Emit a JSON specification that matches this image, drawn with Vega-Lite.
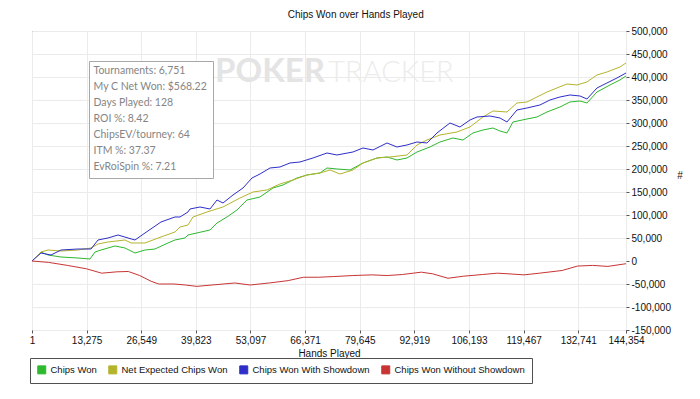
{
  "$schema": "https://vega.github.io/schema/vega-lite/v6.json",
  "width": 594,
  "height": 299,
  "autosize": {"type": "none"},
  "padding": {"left": 32, "top": 31, "right": 74, "bottom": 69},
  "background": "#ffffff",
  "title": {
    "text": "Chips Won over Hands Played",
    "font": "Liberation Sans",
    "fontSize": 10,
    "fontWeight": "normal",
    "color": "#111111",
    "anchor": "middle",
    "frame": "bounds",
    "offset": 6
  },
  "config": {
    "view": {"stroke": "#5a5a5a", "strokeWidth": 1},
    "axis": {
      "labelFont": "Liberation Sans",
      "labelFontSize": 10,
      "labelColor": "#111111",
      "titleFont": "Liberation Sans",
      "titleFontSize": 10,
      "titleFontWeight": "normal",
      "titleColor": "#111111",
      "gridColor": "#ebebeb",
      "gridWidth": 1,
      "tickColor": "#555555",
      "domainColor": "#555555",
      "labelOverlap": false,
      "labelFlush": false
    }
  },
  "layer": [
    {
      "data": {"values": [
        {"series": "Chips Won", "hands": 1, "chips": 0},
        {"series": "Chips Won", "hands": 2188, "chips": 19566},
        {"series": "Chips Won", "hands": 3889, "chips": 13044},
        {"series": "Chips Won", "hands": 7048, "chips": 8696},
        {"series": "Chips Won", "hands": 11179, "chips": 6522},
        {"series": "Chips Won", "hands": 14095, "chips": 4348},
        {"series": "Chips Won", "hands": 15310, "chips": 19566},
        {"series": "Chips Won", "hands": 16769, "chips": 23914},
        {"series": "Chips Won", "hands": 20171, "chips": 32610},
        {"series": "Chips Won", "hands": 22601, "chips": 28262},
        {"series": "Chips Won", "hands": 25031, "chips": 17392},
        {"series": "Chips Won", "hands": 27461, "chips": 23914},
        {"series": "Chips Won", "hands": 29891, "chips": 26088},
        {"series": "Chips Won", "hands": 33050, "chips": 39132},
        {"series": "Chips Won", "hands": 34751, "chips": 45654},
        {"series": "Chips Won", "hands": 37181, "chips": 50002},
        {"series": "Chips Won", "hands": 37910, "chips": 56524},
        {"series": "Chips Won", "hands": 43255, "chips": 67394},
        {"series": "Chips Won", "hands": 44956, "chips": 82612},
        {"series": "Chips Won", "hands": 47386, "chips": 95656},
        {"series": "Chips Won", "hands": 49816, "chips": 110874},
        {"series": "Chips Won", "hands": 52246, "chips": 132614},
        {"series": "Chips Won", "hands": 55405, "chips": 139136},
        {"series": "Chips Won", "hands": 58564, "chips": 158702},
        {"series": "Chips Won", "hands": 60994, "chips": 165224},
        {"series": "Chips Won", "hands": 64396, "chips": 180442},
        {"series": "Chips Won", "hands": 66826, "chips": 186964},
        {"series": "Chips Won", "hands": 69985, "chips": 191312},
        {"series": "Chips Won", "hands": 71686, "chips": 202182},
        {"series": "Chips Won", "hands": 74116, "chips": 200008},
        {"series": "Chips Won", "hands": 77275, "chips": 197834},
        {"series": "Chips Won", "hands": 80434, "chips": 213052},
        {"series": "Chips Won", "hands": 83836, "chips": 223922},
        {"series": "Chips Won", "hands": 86266, "chips": 226096},
        {"series": "Chips Won", "hands": 88696, "chips": 219574},
        {"series": "Chips Won", "hands": 91126, "chips": 223922},
        {"series": "Chips Won", "hands": 93556, "chips": 236966},
        {"series": "Chips Won", "hands": 96715, "chips": 247836},
        {"series": "Chips Won", "hands": 99145, "chips": 258706},
        {"series": "Chips Won", "hands": 102304, "chips": 267402},
        {"series": "Chips Won", "hands": 104734, "chips": 263054},
        {"series": "Chips Won", "hands": 107164, "chips": 278272},
        {"series": "Chips Won", "hands": 109594, "chips": 284794},
        {"series": "Chips Won", "hands": 112024, "chips": 289142},
        {"series": "Chips Won", "hands": 113725, "chips": 282620},
        {"series": "Chips Won", "hands": 115426, "chips": 278272},
        {"series": "Chips Won", "hands": 116884, "chips": 302186},
        {"series": "Chips Won", "hands": 120286, "chips": 308708},
        {"series": "Chips Won", "hands": 122716, "chips": 313056},
        {"series": "Chips Won", "hands": 125146, "chips": 323926},
        {"series": "Chips Won", "hands": 128305, "chips": 334796},
        {"series": "Chips Won", "hands": 130735, "chips": 345666},
        {"series": "Chips Won", "hands": 133165, "chips": 347840},
        {"series": "Chips Won", "hands": 134866, "chips": 343492},
        {"series": "Chips Won", "hands": 137296, "chips": 367406},
        {"series": "Chips Won", "hands": 140455, "chips": 382624},
        {"series": "Chips Won", "hands": 142885, "chips": 393494},
        {"series": "Chips Won", "hands": 144354, "chips": 402190},

        {"series": "Net Expected Chips Won", "hands": 1, "chips": 0},
        {"series": "Net Expected Chips Won", "hands": 2188, "chips": 19566},
        {"series": "Net Expected Chips Won", "hands": 3889, "chips": 23914},
        {"series": "Net Expected Chips Won", "hands": 7048, "chips": 21740},
        {"series": "Net Expected Chips Won", "hands": 11179, "chips": 23914},
        {"series": "Net Expected Chips Won", "hands": 14338, "chips": 28262},
        {"series": "Net Expected Chips Won", "hands": 16039, "chips": 36958},
        {"series": "Net Expected Chips Won", "hands": 18469, "chips": 41306},
        {"series": "Net Expected Chips Won", "hands": 22601, "chips": 45654},
        {"series": "Net Expected Chips Won", "hands": 24059, "chips": 39132},
        {"series": "Net Expected Chips Won", "hands": 27461, "chips": 39132},
        {"series": "Net Expected Chips Won", "hands": 31349, "chips": 52176},
        {"series": "Net Expected Chips Won", "hands": 34751, "chips": 63046},
        {"series": "Net Expected Chips Won", "hands": 35966, "chips": 73916},
        {"series": "Net Expected Chips Won", "hands": 37910, "chips": 78264},
        {"series": "Net Expected Chips Won", "hands": 39125, "chips": 95656},
        {"series": "Net Expected Chips Won", "hands": 42527, "chips": 106526},
        {"series": "Net Expected Chips Won", "hands": 46415, "chips": 117396},
        {"series": "Net Expected Chips Won", "hands": 50546, "chips": 136962},
        {"series": "Net Expected Chips Won", "hands": 53705, "chips": 150006},
        {"series": "Net Expected Chips Won", "hands": 57107, "chips": 154354},
        {"series": "Net Expected Chips Won", "hands": 60266, "chips": 167398},
        {"series": "Net Expected Chips Won", "hands": 63425, "chips": 176094},
        {"series": "Net Expected Chips Won", "hands": 66826, "chips": 186964},
        {"series": "Net Expected Chips Won", "hands": 69985, "chips": 191312},
        {"series": "Net Expected Chips Won", "hands": 72415, "chips": 197834},
        {"series": "Net Expected Chips Won", "hands": 74845, "chips": 189138},
        {"series": "Net Expected Chips Won", "hands": 78004, "chips": 197834},
        {"series": "Net Expected Chips Won", "hands": 80434, "chips": 213052},
        {"series": "Net Expected Chips Won", "hands": 83836, "chips": 223922},
        {"series": "Net Expected Chips Won", "hands": 86995, "chips": 226096},
        {"series": "Net Expected Chips Won", "hands": 91126, "chips": 230444},
        {"series": "Net Expected Chips Won", "hands": 93556, "chips": 252184},
        {"series": "Net Expected Chips Won", "hands": 95986, "chips": 263054},
        {"series": "Net Expected Chips Won", "hands": 99145, "chips": 273924},
        {"series": "Net Expected Chips Won", "hands": 103276, "chips": 280446},
        {"series": "Net Expected Chips Won", "hands": 106435, "chips": 291316},
        {"series": "Net Expected Chips Won", "hands": 109594, "chips": 313056},
        {"series": "Net Expected Chips Won", "hands": 112024, "chips": 326100},
        {"series": "Net Expected Chips Won", "hands": 115426, "chips": 323926},
        {"series": "Net Expected Chips Won", "hands": 117856, "chips": 343492},
        {"series": "Net Expected Chips Won", "hands": 120286, "chips": 345666},
        {"series": "Net Expected Chips Won", "hands": 122716, "chips": 356536},
        {"series": "Net Expected Chips Won", "hands": 125146, "chips": 367406},
        {"series": "Net Expected Chips Won", "hands": 127576, "chips": 376102},
        {"series": "Net Expected Chips Won", "hands": 130006, "chips": 384798},
        {"series": "Net Expected Chips Won", "hands": 132436, "chips": 382624},
        {"series": "Net Expected Chips Won", "hands": 134866, "chips": 389146},
        {"series": "Net Expected Chips Won", "hands": 137296, "chips": 404364},
        {"series": "Net Expected Chips Won", "hands": 139726, "chips": 410886},
        {"series": "Net Expected Chips Won", "hands": 142885, "chips": 421756},
        {"series": "Net Expected Chips Won", "hands": 144354, "chips": 430452},

        {"series": "Chips Won With Showdown", "hands": 1, "chips": 0},
        {"series": "Chips Won With Showdown", "hands": 2188, "chips": 17392},
        {"series": "Chips Won With Showdown", "hands": 4618, "chips": 13044},
        {"series": "Chips Won With Showdown", "hands": 7048, "chips": 23914},
        {"series": "Chips Won With Showdown", "hands": 11179, "chips": 26088},
        {"series": "Chips Won With Showdown", "hands": 14338, "chips": 26088},
        {"series": "Chips Won With Showdown", "hands": 16039, "chips": 45654},
        {"series": "Chips Won With Showdown", "hands": 18469, "chips": 50002},
        {"series": "Chips Won With Showdown", "hands": 20899, "chips": 56524},
        {"series": "Chips Won With Showdown", "hands": 23329, "chips": 50002},
        {"series": "Chips Won With Showdown", "hands": 25031, "chips": 45654},
        {"series": "Chips Won With Showdown", "hands": 27461, "chips": 60872},
        {"series": "Chips Won With Showdown", "hands": 31349, "chips": 84786},
        {"series": "Chips Won With Showdown", "hands": 34751, "chips": 95656},
        {"series": "Chips Won With Showdown", "hands": 35966, "chips": 95656},
        {"series": "Chips Won With Showdown", "hands": 37910, "chips": 106526},
        {"series": "Chips Won With Showdown", "hands": 38396, "chips": 113048},
        {"series": "Chips Won With Showdown", "hands": 40826, "chips": 117396},
        {"series": "Chips Won With Showdown", "hands": 43256, "chips": 113048},
        {"series": "Chips Won With Showdown", "hands": 44957, "chips": 132614},
        {"series": "Chips Won With Showdown", "hands": 46415, "chips": 126092},
        {"series": "Chips Won With Showdown", "hands": 48845, "chips": 143484},
        {"series": "Chips Won With Showdown", "hands": 51275, "chips": 158702},
        {"series": "Chips Won With Showdown", "hands": 53462, "chips": 180442},
        {"series": "Chips Won With Showdown", "hands": 55406, "chips": 189138},
        {"series": "Chips Won With Showdown", "hands": 57836, "chips": 202182},
        {"series": "Chips Won With Showdown", "hands": 60266, "chips": 204356},
        {"series": "Chips Won With Showdown", "hands": 62696, "chips": 213052},
        {"series": "Chips Won With Showdown", "hands": 65126, "chips": 215226},
        {"series": "Chips Won With Showdown", "hands": 68285, "chips": 223922},
        {"series": "Chips Won With Showdown", "hands": 71687, "chips": 234792},
        {"series": "Chips Won With Showdown", "hands": 74117, "chips": 230444},
        {"series": "Chips Won With Showdown", "hands": 78004, "chips": 236966},
        {"series": "Chips Won With Showdown", "hands": 80434, "chips": 245662},
        {"series": "Chips Won With Showdown", "hands": 82864, "chips": 241314},
        {"series": "Chips Won With Showdown", "hands": 86266, "chips": 256532},
        {"series": "Chips Won With Showdown", "hands": 88696, "chips": 247836},
        {"series": "Chips Won With Showdown", "hands": 91126, "chips": 252184},
        {"series": "Chips Won With Showdown", "hands": 93556, "chips": 258706},
        {"series": "Chips Won With Showdown", "hands": 95986, "chips": 256532},
        {"series": "Chips Won With Showdown", "hands": 98416, "chips": 278272},
        {"series": "Chips Won With Showdown", "hands": 101575, "chips": 300012},
        {"series": "Chips Won With Showdown", "hands": 104005, "chips": 291316},
        {"series": "Chips Won With Showdown", "hands": 106435, "chips": 306534},
        {"series": "Chips Won With Showdown", "hands": 108136, "chips": 313056},
        {"series": "Chips Won With Showdown", "hands": 111295, "chips": 315230},
        {"series": "Chips Won With Showdown", "hands": 113725, "chips": 310882},
        {"series": "Chips Won With Showdown", "hands": 115426, "chips": 302186},
        {"series": "Chips Won With Showdown", "hands": 117856, "chips": 328274},
        {"series": "Chips Won With Showdown", "hands": 120286, "chips": 332622},
        {"series": "Chips Won With Showdown", "hands": 123445, "chips": 339144},
        {"series": "Chips Won With Showdown", "hands": 125875, "chips": 350014},
        {"series": "Chips Won With Showdown", "hands": 128305, "chips": 356536},
        {"series": "Chips Won With Showdown", "hands": 130735, "chips": 360884},
        {"series": "Chips Won With Showdown", "hands": 133165, "chips": 358710},
        {"series": "Chips Won With Showdown", "hands": 134866, "chips": 352188},
        {"series": "Chips Won With Showdown", "hands": 137296, "chips": 376102},
        {"series": "Chips Won With Showdown", "hands": 139726, "chips": 386972},
        {"series": "Chips Won With Showdown", "hands": 142156, "chips": 397842},
        {"series": "Chips Won With Showdown", "hands": 144354, "chips": 408712},

        {"series": "Chips Won Without Showdown", "hands": 1, "chips": 0},
        {"series": "Chips Won Without Showdown", "hands": 3978, "chips": -2941},
        {"series": "Chips Won Without Showdown", "hands": 8603, "chips": -9559},
        {"series": "Chips Won Without Showdown", "hands": 13228, "chips": -16912},
        {"series": "Chips Won Without Showdown", "hands": 16928, "chips": -26471},
        {"series": "Chips Won Without Showdown", "hands": 20628, "chips": -23529},
        {"series": "Chips Won Without Showdown", "hands": 23403, "chips": -22794},
        {"series": "Chips Won Without Showdown", "hands": 26178, "chips": -31618},
        {"series": "Chips Won Without Showdown", "hands": 28953, "chips": -44118},
        {"series": "Chips Won Without Showdown", "hands": 30803, "chips": -50000},
        {"series": "Chips Won Without Showdown", "hands": 34503, "chips": -50000},
        {"series": "Chips Won Without Showdown", "hands": 37278, "chips": -52206},
        {"series": "Chips Won Without Showdown", "hands": 40053, "chips": -55147},
        {"series": "Chips Won Without Showdown", "hands": 43753, "chips": -52206},
        {"series": "Chips Won Without Showdown", "hands": 49303, "chips": -47794},
        {"series": "Chips Won Without Showdown", "hands": 53003, "chips": -52206},
        {"series": "Chips Won Without Showdown", "hands": 57628, "chips": -47794},
        {"series": "Chips Won Without Showdown", "hands": 62253, "chips": -42647},
        {"series": "Chips Won Without Showdown", "hands": 65953, "chips": -35294},
        {"series": "Chips Won Without Showdown", "hands": 69653, "chips": -35294},
        {"series": "Chips Won Without Showdown", "hands": 73353, "chips": -33824},
        {"series": "Chips Won Without Showdown", "hands": 77978, "chips": -31618},
        {"series": "Chips Won Without Showdown", "hands": 82603, "chips": -30147},
        {"series": "Chips Won Without Showdown", "hands": 86303, "chips": -31618},
        {"series": "Chips Won Without Showdown", "hands": 90003, "chips": -29412},
        {"series": "Chips Won Without Showdown", "hands": 94628, "chips": -24265},
        {"series": "Chips Won Without Showdown", "hands": 97403, "chips": -27941},
        {"series": "Chips Won Without Showdown", "hands": 101103, "chips": -37500},
        {"series": "Chips Won Without Showdown", "hands": 104803, "chips": -33088},
        {"series": "Chips Won Without Showdown", "hands": 109428, "chips": -29412},
        {"series": "Chips Won Without Showdown", "hands": 113128, "chips": -26471},
        {"series": "Chips Won Without Showdown", "hands": 115903, "chips": -27941},
        {"series": "Chips Won Without Showdown", "hands": 119603, "chips": -30147},
        {"series": "Chips Won Without Showdown", "hands": 123303, "chips": -26471},
        {"series": "Chips Won Without Showdown", "hands": 128853, "chips": -20588},
        {"series": "Chips Won Without Showdown", "hands": 132553, "chips": -11029},
        {"series": "Chips Won Without Showdown", "hands": 136253, "chips": -9559},
        {"series": "Chips Won Without Showdown", "hands": 139953, "chips": -11765},
        {"series": "Chips Won Without Showdown", "hands": 144354, "chips": -5882}
      ]},
      "mark": {"type": "line", "strokeWidth": 1},
      "encoding": {
        "x": {
          "field": "hands",
          "type": "quantitative",
          "scale": {"domain": [1, 144354], "nice": false, "zero": false},
          "axis": {
            "title": "Hands Played",
            "values": [1, 13275, 26549, 39823, 53097, 66371, 79645, 92919, 106193, 119467, 132741, 144354],
            "tickCount": 30,
            "format": ",d",
            "grid": true,
            "domain": false,
            "tickSize": 3,
            "labelPadding": 2,
            "titlePadding": 3,
            "labelFlush": false,
            "labelOverlap": false
          }
        },
        "y": {
          "field": "chips",
          "type": "quantitative",
          "scale": {"domain": [-150000, 500000], "nice": false, "zero": false},
          "axis": {
            "orient": "right",
            "title": "#",
            "titleAngle": 0,
            "titlePadding": 9,
            "values": [-150000, -100000, -50000, 0, 50000, 100000, 150000, 200000, 250000, 300000, 350000, 400000, 450000, 500000],
            "tickCount": 30,
            "format": ",d",
            "labelExpr": "replace(datum.label, '\u2212', '-')",
            "grid": true,
            "domain": false,
            "tickSize": 3,
            "labelPadding": 2,
            "labelFlush": false,
            "labelOverlap": false
          }
        },
        "color": {
          "field": "series",
          "type": "nominal",
          "scale": {
            "domain": ["Chips Won", "Net Expected Chips Won", "Chips Won With Showdown", "Chips Won Without Showdown"],
            "range": ["#2eb82e", "#b4b42c", "#2e2ec8", "#c83434"]
          },
          "legend": {
            "orient": "none",
            "legendX": -2,
            "legendY": 327,
            "direction": "horizontal",
            "title": null,
            "padding": 7,
            "strokeColor": "#505050",
            "fillColor": "#ffffff",
            "symbolType": "square",
            "symbolSize": 64,
            "labelFont": "Liberation Sans",
            "labelFontSize": 9.5,
            "labelColor": "#111111",
            "labelOffset": 4,
            "columnPadding": 9,
            "encode": {
              "symbols": {
                "update": {
                  "fill": {"scale": "color", "field": "value"},
                  "stroke": {"value": "#404040"},
                  "strokeWidth": {"value": 1},
                  "opacity": {"value": 1}
                }
              }
            }
          }
        }
      }
    },
    {
      "data": {"values": [{"word": "POKER"}]},
      "mark": {"type": "text", "align": "right", "baseline": "alphabetic", "font": "Lato", "fontWeight": "bold", "fontSize": 33, "color": "#e4e4e4"},
      "encoding": {
        "x": {"datum": 71200, "type": "quantitative"},
        "y": {"datum": 389000, "type": "quantitative"},
        "text": {"field": "word"}
      }
    },
    {
      "data": {"values": [{"word": "TRACKER"}]},
      "mark": {"type": "text", "align": "left", "baseline": "alphabetic", "font": "Lato", "fontWeight": 300, "fontSize": 29, "color": "#ececec"},
      "encoding": {
        "x": {"datum": 72000, "type": "quantitative"},
        "y": {"datum": 389000, "type": "quantitative"},
        "text": {"field": "word"}
      }
    },
    {
      "data": {"values": [
        {"stat": "Tournaments: 6,751"},
        {"stat": "My C Net Won: $568.22"},
        {"stat": "Days Played: 128"},
        {"stat": "ROI %: 8.42"},
        {"stat": "ChipsEV/tourney: 64"},
        {"stat": "ITM %: 37.37"},
        {"stat": "EvRoiSpin %: 7.21"}
      ]},
      "mark": {"type": "point", "opacity": 0},
      "encoding": {
        "shape": {
          "field": "stat",
          "type": "nominal",
          "scale": {"domain": ["Tournaments: 6,751", "My C Net Won: $568.22", "Days Played: 128", "ROI %: 8.42", "ChipsEV/tourney: 64", "ITM %: 37.37", "EvRoiSpin %: 7.21"]},
          "legend": {
            "orient": "none",
            "legendX": 57,
            "legendY": 30,
            "title": null,
            "direction": "vertical",
            "padding": 5,
            "strokeColor": "#a8a8a8",
            "fillColor": "#ffffff",
            "labelFont": "Lato",
            "labelFontSize": 10.5,
            "labelColor": "#858585",
            "symbolSize": 0,
            "symbolOpacity": 0,
            "symbolStrokeWidth": 0,
            "labelOffset": -11,
            "rowPadding": 5
          }
        }
      }
    },
    {
      "mark": {"type": "rule", "color": "#6e6e6e", "strokeWidth": 2},
      "encoding": {"x": {"datum": 1, "type": "quantitative"}}
    },
    {
      "mark": {"type": "rule", "color": "#7a7a7a", "strokeWidth": 2},
      "encoding": {"y": {"datum": 0, "type": "quantitative"}}
    }
  ]
}
